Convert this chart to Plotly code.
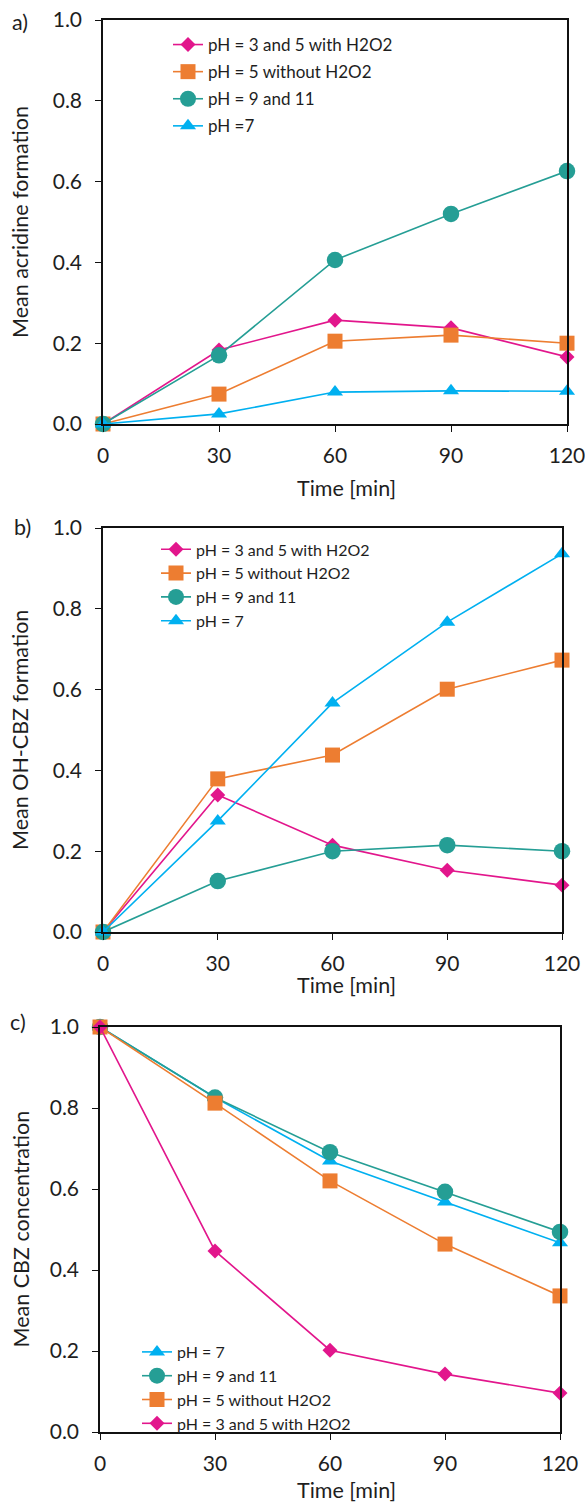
import plotly.graph_objects as go

time = [0, 30, 60, 90, 120]

# Panel a: Mean acridine formation
a_ph3_5_h2o2 = [0.0, 0.183, 0.257, 0.238, 0.166]
a_ph5_no_h2o2 = [0.0, 0.074, 0.205, 0.220, 0.200]
a_ph9_11 = [0.0, 0.170, 0.406, 0.520, 0.626]
a_ph7 = [0.0, 0.025, 0.079, 0.082, 0.081]

# Panel b: Mean OH-CBZ formation
b_ph3_5_h2o2 = [0.0, 0.339, 0.215, 0.153, 0.116]
b_ph5_no_h2o2 = [0.0, 0.379, 0.438, 0.601, 0.673]
b_ph9_11 = [0.0, 0.126, 0.200, 0.215, 0.200]
b_ph7 = [0.0, 0.275, 0.567, 0.767, 0.936]

# Panel c: Mean CBZ concentration
c_ph7 = [1.0, 0.826, 0.669, 0.568, 0.467]
c_ph9_11 = [1.0, 0.826, 0.691, 0.593, 0.494]
c_ph5_no_h2o2 = [1.0, 0.812, 0.620, 0.464, 0.336]
c_ph3_5_h2o2 = [1.0, 0.447, 0.202, 0.143, 0.096]

x_ticks = [0, 30, 60, 90, 120]
y_ticks = [0.0, 0.2, 0.4, 0.6, 0.8, 1.0]

PINK = "#E2168C"
ORANGE = "#ED7D31"
TEAL = "#259E95"
BLUE = "#00B0F0"
FONT = "Lato, 'Open Sans', sans-serif"
TXT = "#1e1e1e"

W, H = 585, 1506


def px_x(p):
    return p / W


def px_y(p):
    return 1 - p / H


styles = {
    "pink": dict(color=PINK, symbol="diamond", size=11.5),
    "orange": dict(color=ORANGE, symbol="square", size=15),
    "teal": dict(color=TEAL, symbol="circle", size=16.5),
    "blue": dict(color=BLUE, symbol="triangle-up", size=14),
}

fig = go.Figure()


def add(y, name, key, ax, leg, grp):
    st = styles[key]
    fig.add_trace(go.Scatter(
        x=time, y=y, name=name, mode="lines+markers",
        line=dict(color=st["color"], width=1.6),
        marker=dict(color=st["color"], symbol=st["symbol"], size=st["size"]),
        xaxis="x" + ax, yaxis="y" + ax, legend=leg, legendgroup=grp,
        cliponaxis=False,
    ))


add(a_ph3_5_h2o2, "pH = 3 and 5 with H2O2", "pink", "", "legend", "a1")
add(a_ph5_no_h2o2, "pH = 5 without H2O2", "orange", "", "legend", "a2")
add(a_ph9_11, "pH = 9 and 11", "teal", "", "legend", "a3")
add(a_ph7, "pH =7", "blue", "", "legend", "a4")

add(b_ph3_5_h2o2, "pH = 3 and 5 with H2O2", "pink", "2", "legend2", "b1")
add(b_ph5_no_h2o2, "pH = 5 without H2O2", "orange", "2", "legend2", "b2")
add(b_ph9_11, "pH = 9 and 11", "teal", "2", "legend2", "b3")
add(b_ph7, "pH = 7", "blue", "2", "legend2", "b4")

add(c_ph7, "pH = 7", "blue", "3", "legend3", "c1")
add(c_ph9_11, "pH = 9 and 11", "teal", "3", "legend3", "c2")
add(c_ph5_no_h2o2, "pH = 5 without H2O2", "orange", "3", "legend3", "c3")
add(c_ph3_5_h2o2, "pH = 3 and 5 with H2O2", "pink", "3", "legend3", "c4")

panels = [
    # (suffix, left, right, top, bottom) in window pixels
    ("", 103, 567, 20, 424),
    ("2", 103, 562, 528, 932),
    ("3", 100, 560, 1027, 1432),
]

tickfont = dict(family=FONT, size=21, color=TXT)
axcommon = dict(
    showline=True, linecolor="#111", linewidth=1.5, mirror=True,
    ticks="outside", ticklen=6, tickcolor="#111", tickwidth=1.3,
    showgrid=False, zeroline=False, automargin=False,
    ticklabeloverflow="allow", tickfont=tickfont,
)

layout = dict(
    width=W, height=H, margin=dict(l=0, r=0, t=0, b=0),
    paper_bgcolor="white", plot_bgcolor="white",
    font=dict(family=FONT, color=TXT),
    showlegend=True,
)

for suf, l, r, t, b in panels:
    layout["xaxis" + suf] = dict(
        axcommon, domain=[px_x(l), px_x(r)], range=[0, 120],
        tickvals=x_ticks, anchor="y" + suf, ticklabelstandoff=6,
    )
    layout["yaxis" + suf] = dict(
        axcommon, domain=[px_y(b), px_y(t)], range=[0, 1],
        tickvals=y_ticks, tickformat=".1f", anchor="x" + suf,
        ticklabelstandoff=9,
    )

# legend boxes (their text starts ~48px right of x, first entry ~26px below top)
layout["legend"] = dict(x=px_x(168), y=px_y(27), xanchor="left", yanchor="top",
                        bgcolor="rgba(0,0,0,0)", tracegroupgap=2,
                        font=dict(family=FONT, size=17, color=TXT))
layout["legend2"] = dict(x=px_x(156), y=px_y(532.4), xanchor="left", yanchor="top",
                         bgcolor="rgba(0,0,0,0)", tracegroupgap=0,
                         font=dict(family=FONT, size=16, color=TXT))
layout["legend3"] = dict(x=px_x(137), y=px_y(1335), xanchor="left", yanchor="top",
                         bgcolor="rgba(0,0,0,0)", tracegroupgap=0,
                         font=dict(family=FONT, size=16, color=TXT))

ann = []
titles = ["Mean acridine formation", "Mean OH-CBZ formation", "Mean CBZ concentration"]
labels = [("a)", 20, 22), ("b)", 22, 527), ("c)", 18, 1022)]
xtitle_y = [488, 985, 1490]
bigfont = dict(family=FONT, size=21.5, color=TXT)
for (suf, l, r, t, b), ttl, (lab, lx, ly), xty in zip(panels, titles, labels, xtitle_y):
    ann.append(dict(text=ttl, x=px_x(20), y=px_y((t + b) / 2), xref="paper", yref="paper",
                    xanchor="center", yanchor="middle",
                    textangle=-90, showarrow=False, font=bigfont))
    ann.append(dict(text=lab, x=px_x(lx), y=px_y(ly), xref="paper", yref="paper",
                    xanchor="center", yanchor="middle",
                    showarrow=False, font=bigfont))
    ann.append(dict(text="Time [min]", x=px_x(346), y=px_y(xty), xref="paper", yref="paper",
                    xanchor="center", yanchor="middle",
                    showarrow=False, font=bigfont))
layout["annotations"] = ann

fig.update_layout(**layout)
fig.write_html(
    "out.html",
    config={"displayModeBar": False},
    post_script="document.body.style.margin='0';document.body.style.overflow='hidden';",
)
